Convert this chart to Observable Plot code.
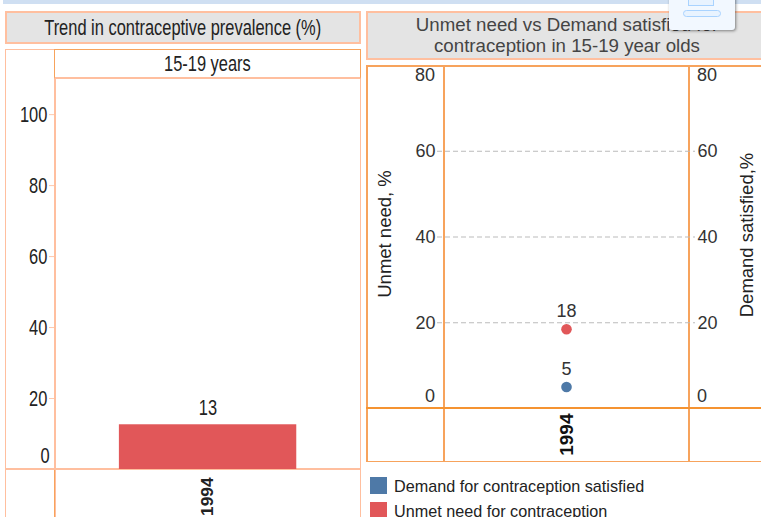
<!DOCTYPE html>
<html><head><meta charset="utf-8">
<script src="https://cdn.jsdelivr.net/npm/d3@7"></script>
<script src="https://cdn.jsdelivr.net/npm/@observablehq/plot@0.6"></script>
<style>
html,body{margin:0;padding:0;background:#fff;width:761px;height:517px;overflow:hidden;font-family:"Liberation Sans",Arial,sans-serif;color:#333}
.a{position:absolute;box-sizing:border-box}
.head{background:#e4e4e4;text-align:center}
.sq{display:inline-block;transform:scaleX(.73);white-space:nowrap;color:#222}
svg{position:absolute;background:transparent!important;overflow:hidden}
</style></head><body>
<div id="root"></div>
<script>
const years = ["1994"];
const prevalence = [12.6];
const prevalenceLabels = ["13"];
const unmetNeed = [18.5];
const unmetLabels = ["18"];
const demandSatisfied = [5];
const demandLabels = ["5"];
const leftTicks = [20, 40, 60, 80, 100];
const rightTicks = [20, 40, 60];
const legendNames = ["Demand for contraception satisfied", "Unmet need for contraception"];
const legendColors = ["#4e79a7", "#e15759"];
const leftTitle = "Trend in contraceptive prevalence (%)";
const leftSub = "15-19 years";
const rightTitle = ["Unmet need vs Demand satisfied for", "contraception in 15-19 year olds"];

const root = document.getElementById("root");
function box(x, y, w, h, css, html, cls) {
  const d = document.createElement("div");
  d.className = "a " + (cls || "");
  d.style.cssText = `left:${x}px;top:${y}px;width:${w}px;height:${h}px;${css || ""}`;
  if (html) d.innerHTML = html;
  root.appendChild(d);
  return d;
}
const pale = "#ffbf9f", orange = "#f7a35c";
const squeeze = 0.73;
const font = {fontFamily: '"Liberation Sans", Arial, sans-serif', background: "transparent"};

// top band
box(3, 0, 758, 4, "background:#cfdff2");

// left panel frames
box(5, 11, 356, 33, `border:2px solid ${pale};font-size:22.5px;line-height:29px;white-space:nowrap;display:flex;justify-content:center`, `<span class="sq">${leftTitle}</span>`, "head");
box(5, 49, 356, 470, `border:1px solid ${pale}`);
box(54, 49, 307, 30, `border:1px solid ${orange};border-bottom:2px solid ${pale};font-size:22.5px;line-height:27px;text-align:center`, `<span class="sq">${leftSub}</span>`);
box(54, 79, 2, 440, `background:${pale}`);
box(5, 468, 356, 2, `background:${pale}`);
box(54, 470, 1, 50, `background:${orange}`);

// right panel frames
box(366, 11, 402, 49, `border:2px solid ${pale};font-size:18.7px;line-height:21px;padding-top:1px;color:#444;white-space:nowrap`, rightTitle.join("<br>"), "head");
box(366, 65, 400, 397, `border:2px solid ${orange};border-bottom-width:1px`);
box(443, 65, 2, 397, `background:${orange}`);
box(688, 65, 2, 397, `background:${orange}`);
box(366, 407, 400, 2, `background:#f59331`);

// left chart: drawn wide then squeezed horizontally, as in the reference
const barData = years.map((y, i) => ({year: y, value: prevalence[i], label: prevalenceLabels[i]}));
const left = Plot.plot({
  style: font,
  width: 355 / squeeze, height: 390, marginLeft: 50 / squeeze, marginRight: 0, marginTop: 0, marginBottom: 0,
  x: {domain: years, padding: 0.263, label: null, axis: null},
  y: {domain: [0, 109.9], label: null, axis: null},
  marks: [
    Plot.barY(barData, {x: "year", y: "value", fill: "#e15759"}),
    Plot.text(barData, {x: "year", y: "value", text: "label", dy: -17, fontSize: 22.5, fill: "#222"}),
    Plot.axisY({ticks: leftTicks, tickFormat: d => d, label: null, tickSize: 6 / squeeze, tickPadding: 2 / squeeze, stroke: pale, fill: "#222", fontSize: 22.5})
  ]
});
left.style.left = "5px"; left.style.top = "79px";
left.style.transformOrigin = "0 0"; left.style.transform = `scaleX(${squeeze})`;
root.appendChild(left);

const leftAxis = Plot.plot({
  style: font,
  width: 355, height: 48, marginLeft: 50, marginRight: 0, marginTop: 0, marginBottom: 48,
  x: {domain: years, label: null, axis: null},
  marks: [
    Plot.axisX({tickSize: 0, tickPadding: 0, anchor: "bottom", label: null, tickRotate: -90, fontSize: 17.3, fontWeight: "bold", fill: "#222", textAnchor: "end", dy: 8, dx: -1})
  ]
});
leftAxis.style.left = "5px"; leftAxis.style.top = "469px";
root.appendChild(leftAxis);
box(20, 444, 30, 24, "font-size:22.5px;line-height:24px;text-align:right", `<span class="sq" style="transform-origin:100% 50%">0</span>`);

// right chart
const demand = years.map((y, i) => ({year: y, value: demandSatisfied[i], label: demandLabels[i], color: legendColors[0]}));
const unmet = years.map((y, i) => ({year: y, value: unmetNeed[i], label: unmetLabels[i], color: legendColors[1]}));
const pts = demand.concat(unmet);
const ink = "#333";
const right = Plot.plot({
  style: font,
  width: 394, height: 396, marginLeft: 77, marginRight: 72, marginTop: 0, marginBottom: 53,
  x: {domain: years, label: null, axis: null},
  y: {domain: [0, 80], label: null, axis: null},
  marks: [
    Plot.ruleY(rightTicks, {stroke: "#bbb", strokeDasharray: "5,3", insetLeft: -7, insetRight: -6}),
    Plot.dot(pts, {x: "year", y: "value", r: 5.3, fill: "color", dx: -1}),
    Plot.text(pts, {x: "year", y: "value", text: "label", dy: -18, dx: -1, fontSize: 18, fill: ink}),
    Plot.axisY({anchor: "left", ticks: rightTicks, tickFormat: d => d, label: null, tickSize: 0, tickPadding: 9, fontSize: 18, fill: ink}),
    Plot.axisY({anchor: "right", ticks: rightTicks, tickFormat: d => d, label: null, tickSize: 0, tickPadding: 8, fontSize: 18, fill: ink}),
    Plot.axisX({tickSize: 0, tickPadding: 0, anchor: "bottom", label: null, tickRotate: -90, fontSize: 19, fontWeight: "bold", fill: "#111", textAnchor: "end", dy: 5, dx: -1})
  ]
});
right.style.left = "367px"; right.style.top = "65px";
root.appendChild(right);

// edge labels and axis titles, real text
box(395, 64, 40, 22, "font-size:18px;line-height:22px;text-align:right", "80");
box(697, 64, 40, 22, "font-size:18px;line-height:22px", "80");
box(395, 385, 40, 22, "font-size:18px;line-height:22px;text-align:right", "0");
box(697, 385, 40, 22, "font-size:18px;line-height:22px", "0");
box(285, 224, 200, 20, "font-size:18.5px;line-height:20px;text-align:center;transform:rotate(-90deg);color:#222;white-space:nowrap", "Unmet need, %");
box(647, 225, 200, 20, "font-size:18.5px;line-height:20px;text-align:center;transform:rotate(-90deg);color:#222;white-space:nowrap", "Demand satisfied,%");

// legend
legendNames.forEach((n, i) => {
  const y = 477 + i * 25;
  box(370, y, 17, 17, `background:${legendColors[i]}`);
  box(394, y, 300, 15, "font-size:16.2px;line-height:18px;color:#222;white-space:nowrap", n);
});

// overlapping popup in reference
box(669, -6, 66, 36, "background:#f2f8ff;border-radius:0 0 3px 3px;box-shadow:1px 1px 3px rgba(0,0,0,.45)");
box(688, -6, 26, 12, "background:#e8f3ff;border:1.5px solid #a9d3ff");
box(683, 10, 38, 7, "background:#e8f3ff;border:1.5px solid #a9d3ff;border-radius:4px");
</script>
</body></html>
